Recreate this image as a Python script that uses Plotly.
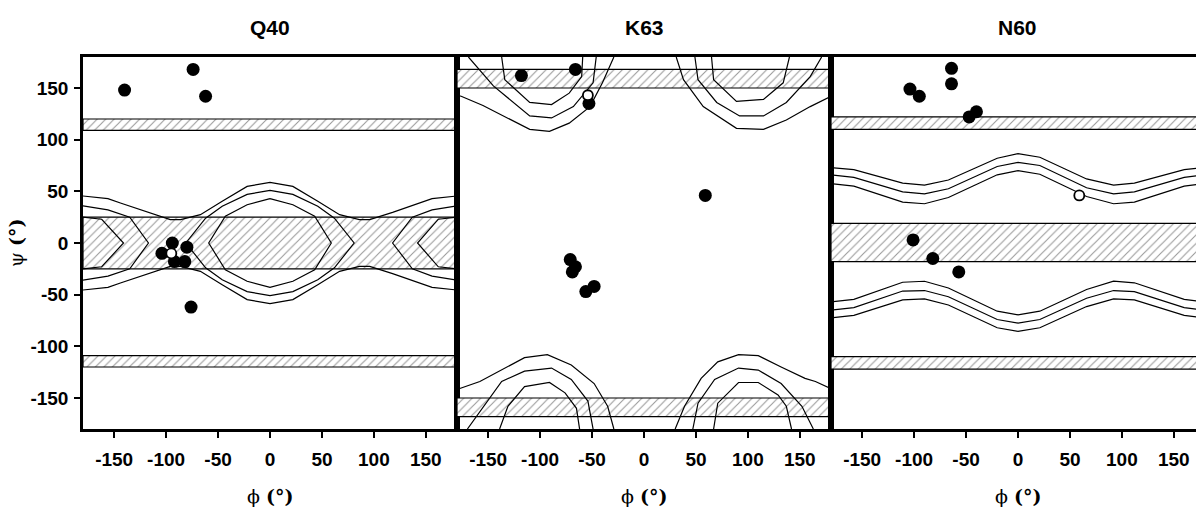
import plotly.graph_objects as go

# ---------------- data ----------------
panels = ["Q40", "K63", "N60"]
tick_vals = [-150, -100, -50, 0, 50, 100, 150]
tick_text = ["-150", "-100", "-50", "0", "50", "100", "150"]

# hatched psi bands (psi_low, psi_high) per panel
bands_q40 = [(109, 120), (-25, 25), (-120, -109)]
bands_k63 = [(150, 168), (-168, -150)]
bands_n60 = [(110, 122), (-18, 19), (-122, -110)]

# Q40 contour polylines (phi list, psi list)
q40_inner_phi = [0, 22, 43, 59, 43, 22, 0, -22, -43, -59, -43, -22, 0]
q40_inner_psi = [43, 37, 26, 0, -26, -37, -43, -37, -26, 0, 26, 37, 43]
q40_mid_phi = [0, 22, 46, 62, 81, 62, 46, 22, 0, -22, -46, -62, -81, -62, -46, -22, 0]
q40_mid_psi = [51, 47, 35.5, 24, 0, -24, -35.5, -47, -51, -47, -35.5, -24, 0, 24, 35.5, 47, 51]
q40_wave_phi = [-180, -156, -144, -118, -96, -86, -67, -46, -22, 0, 22, 46, 67, 86, 96, 118, 144, 156, 180]
q40_wave_up = [45.5, 43, 38.7, 29.7, 22.6, 22.6, 27.4, 40.3, 54.8, 58.7, 54.8, 40.3, 27.4, 22.6, 22.6, 29.7, 38.7, 43, 45.5]
q40_wave_dn = [-45.5, -43, -38.7, -29.7, -22.6, -22.6, -27.4, -40.3, -54.8, -58.7, -54.8, -40.3, -27.4, -22.6, -22.6, -29.7, -38.7, -43, -45.5]
q40_edge_mid_r_phi = [180, 156, 137, 118, 137, 156, 180]
q40_edge_mid_l_phi = [-180, -156, -135, -117, -135, -156, -180]
q40_edge_mid_psi = [36, 32, 25, 0, -25, -32, -36]
q40_edge_in_r_phi = [180, 162, 142, 162, 180]
q40_edge_in_l_phi = [-180, -162, -141, -162, -180]
q40_edge_in_psi = [25, 23, 0, -23, -25]

# K63 contour polylines
k63_top_left_out_phi = [-180, -176, -155, -110, -91, -72, -52, -40, -29]
k63_top_left_out_psi = [143, 142, 133, 110, 108, 116, 132, 155, 180]
k63_top_left_mid_phi = [-169, -145, -110, -89, -68, -49, -46]
k63_top_left_mid_psi = [180, 152, 123, 121, 132, 155, 180]
k63_top_left_in_phi = [-137, -134, -110, -89, -72, -60, -59]
k63_top_left_in_psi = [180, 158, 136, 134, 145, 161, 180]
k63_top_right_out_phi = [31, 38, 57, 89, 115, 137, 160, 180]
k63_top_right_out_psi = [180, 158, 132, 111, 110, 119, 132, 142]
k63_top_right_mid_phi = [49, 52, 70, 92, 115, 137, 160, 171]
k63_top_right_mid_psi = [180, 158, 136, 123, 123, 136, 161, 180]
k63_top_right_in_phi = [65, 67, 89, 115, 134, 140]
k63_top_right_in_psi = [180, 158, 137, 139, 155, 180]
k63_bot_left_out_phi = [-180, -178, -158, -115, -93, -70, -48, -35, -29]
k63_bot_left_out_psi = [-142, -141, -134, -111, -108, -118, -136, -158, -180]
k63_bot_left_mid_phi = [-170, -137, -115, -89, -70, -54, -49]
k63_bot_left_mid_psi = [-180, -134, -124, -121, -132, -153, -180]
k63_bot_left_in_phi = [-139, -131, -115, -91, -76, -65, -62]
k63_bot_left_in_psi = [-180, -158, -139, -135, -145, -160, -180]
k63_bot_right_out_phi = [30, 39, 55, 71, 91, 110, 132, 155, 165, 180]
k63_bot_right_out_psi = [-180, -158, -131, -115, -108, -109, -120, -131, -134, -141]
k63_bot_right_mid_phi = [47, 52, 68, 91, 110, 132, 152, 163]
k63_bot_right_mid_psi = [-180, -155, -132, -121, -123, -136, -158, -180]
k63_bot_right_in_phi = [67, 71, 91, 110, 129, 137, 142]
k63_bot_right_in_psi = [-180, -155, -135, -135, -147, -158, -180]

# N60 wavy contour polylines
n60_phi = [-180, -158, -111, -90, -67, -20, 0, 21, 66, 92, 112, 160, 180]
n60_up_out = [73, 71, 58, 56, 61, 82, 86.5, 83, 62, 56, 58, 71, 73]
n60_up_mid = [66, 63.5, 49.5, 47.5, 52.5, 74, 78, 75, 53.5, 47.5, 49.5, 63.5, 66]
n60_up_in = [57.5, 55, 39.5, 38, 44, 66, 70, 66.5, 45, 38, 39.5, 55, 57.5]
n60_dn_in = [-57, -54.5, -38, -37, -43.5, -66, -69.5, -66, -45, -37, -38.5, -54.5, -57]
n60_dn_mid = [-65, -62.5, -46.5, -46, -52, -74, -77.5, -74, -53.5, -46, -47, -62.5, -65]
n60_dn_out = [-72.5, -70, -55, -54, -60, -82, -85.5, -82, -61.5, -54, -55, -70, -72.5]

# residue (phi, psi) points: filled
q40_phi = [-140, -74, -62, -94, -80, -104, -92, -82, -76]
q40_psi = [148, 168, 142, 0, -4, -10, -18, -18, -62]
k63_phi = [-118, -66, -53, 59, -71, -66, -69, -56, -48]
k63_psi = [162, 168, 135, 46, -16, -23, -28, -47, -42]
n60_phi_pts = [-64, -64, -104, -95, -47, -40, -101, -82, -57]
n60_psi_pts = [169, 154, 149, 142, 122, 127, 3, -15, -28]
# open symbols
q40_open_phi, q40_open_psi = [-95], [-10]
k63_open_phi, k63_open_psi = [-54], [143]
n60_open_phi, n60_open_psi = [59], [46]

# ---------------- figure ----------------
W, H = 1196, 509
ML, MT, MB = 83, 57, 80
plot_w = W - ML
splits = [(457 - ML) / plot_w, (831 - ML) / plot_w]
domains = [[0, splits[0]], [splits[0], splits[1]], [splits[1], 1.0]]
x3_max = -180 + (W - 831) * 360.0 / 374.0

fig = go.Figure()
axes = [("x", "y"), ("x2", "y2"), ("x3", "y3")]

pattern = dict(shape="/", size=6, solidity=0.18, fgcolor="#333333", bgcolor="white")


def add_band(lo, hi, ax):
    xa, ya = ax
    fig.add_trace(go.Scatter(x=[-180, 180, 180, -180, -180], y=[lo, lo, hi, hi, lo],
                             mode="lines", fill="toself", fillcolor="white", fillpattern=pattern,
                             line=dict(color="black", width=1.2), hoverinfo="skip",
                             showlegend=False, xaxis=xa, yaxis=ya))


def add_line(xs, ys, ax):
    xa, ya = ax
    fig.add_trace(go.Scatter(x=xs, y=ys, mode="lines", line=dict(color="black", width=1.2),
                             showlegend=False, hoverinfo="skip", xaxis=xa, yaxis=ya))


def add_points(xs, ys, ax, filled=True):
    xa, ya = ax
    if filled:
        mk = dict(size=13, color="black", line=dict(width=0))
    else:
        mk = dict(size=10, color="white", line=dict(color="black", width=1.8))
    fig.add_trace(go.Scatter(x=xs, y=ys, mode="markers", marker=mk, showlegend=False,
                             xaxis=xa, yaxis=ya))


for lo, hi in bands_q40:
    add_band(lo, hi, axes[0])
for lo, hi in bands_k63:
    add_band(lo, hi, axes[1])
for lo, hi in bands_n60:
    add_band(lo, hi, axes[2])

# Q40 contours
add_line(q40_inner_phi, q40_inner_psi, axes[0])
add_line(q40_mid_phi, q40_mid_psi, axes[0])
add_line(q40_wave_phi, q40_wave_up, axes[0])
add_line(q40_wave_phi, q40_wave_dn, axes[0])
add_line(q40_edge_mid_r_phi, q40_edge_mid_psi, axes[0])
add_line(q40_edge_mid_l_phi, q40_edge_mid_psi, axes[0])
add_line(q40_edge_in_r_phi, q40_edge_in_psi, axes[0])
add_line(q40_edge_in_l_phi, q40_edge_in_psi, axes[0])

# K63 contours
for xs, ys in [(k63_top_left_out_phi, k63_top_left_out_psi), (k63_top_left_mid_phi, k63_top_left_mid_psi),
               (k63_top_left_in_phi, k63_top_left_in_psi), (k63_top_right_out_phi, k63_top_right_out_psi),
               (k63_top_right_mid_phi, k63_top_right_mid_psi), (k63_top_right_in_phi, k63_top_right_in_psi),
               (k63_bot_left_out_phi, k63_bot_left_out_psi), (k63_bot_left_mid_phi, k63_bot_left_mid_psi),
               (k63_bot_left_in_phi, k63_bot_left_in_psi), (k63_bot_right_out_phi, k63_bot_right_out_psi),
               (k63_bot_right_mid_phi, k63_bot_right_mid_psi), (k63_bot_right_in_phi, k63_bot_right_in_psi)]:
    add_line(xs, ys, axes[1])

# N60 contours
for ys in [n60_up_out, n60_up_mid, n60_up_in, n60_dn_in, n60_dn_mid, n60_dn_out]:
    add_line(n60_phi, ys, axes[2])

add_points(q40_phi, q40_psi, axes[0])
add_points(q40_open_phi, q40_open_psi, axes[0], filled=False)
add_points(k63_phi, k63_psi, axes[1])
add_points(k63_open_phi, k63_open_psi, axes[1], filled=False)
add_points(n60_phi_pts, n60_psi_pts, axes[2])
add_points(n60_open_phi, n60_open_psi, axes[2], filled=False)

tickfont = dict(family="Liberation Sans, Arial, sans-serif", size=19, color="black", weight="bold")
layout = dict(
    width=W, height=H,
    margin=dict(l=ML, r=0, t=MT, b=MB, pad=0, autoexpand=False),
    paper_bgcolor="white", plot_bgcolor="white",
    showlegend=False,
)
for i, key in enumerate(["xaxis", "xaxis2", "xaxis3"]):
    layout[key] = dict(
        domain=domains[i], anchor=["y", "y2", "y3"][i],
        range=[-180, 180] if i < 2 else [-180, x3_max],
        tickmode="array", tickvals=tick_vals, ticktext=tick_text,
        ticks="outside", ticklen=6, tickwidth=2, tickcolor="black",
        ticklabelstandoff=5,
        showline=True, mirror=True, linecolor="black", linewidth=2.5,
        showgrid=False, zeroline=False, tickfont=tickfont, fixedrange=True,
    )
for i, key in enumerate(["yaxis", "yaxis2", "yaxis3"]):
    d = dict(
        domain=[0, 1], anchor=["x", "x2", "x3"][i], range=[-180, 180],
        showline=True, mirror=(i < 2), linecolor="black", linewidth=2.5,
        showgrid=False, zeroline=False, fixedrange=True,
    )
    if i == 0:
        d.update(tickmode="array", tickvals=tick_vals, ticktext=tick_text,
                 ticks="outside", ticklen=6, tickwidth=2, tickcolor="black", tickfont=tickfont,
                 ticklabelstandoff=2)
    else:
        d.update(showticklabels=False, ticks="")
    layout[key] = d
fig.update_layout(**layout)

plot_h = H - MT - MB
title_y = 1 + (MT - 27) / plot_h
xlab_y = -(496 - (H - MB)) / plot_h
ann = []
for i, name in enumerate(panels):
    xr = ["x", "x2", "x3"][i]
    ann.append(dict(text="<b>%s</b>" % name, x=0, xref=xr, y=title_y, yref="paper",
                    xanchor="center", yanchor="middle", showarrow=False,
                    font=dict(family="Liberation Sans, Arial, sans-serif", size=21, color="black")))
    ann.append(dict(text="ϕ <b>(°)</b>", x=0, xref=xr, y=xlab_y, yref="paper",
                    xanchor="center", yanchor="middle", showarrow=False,
                    font=dict(family="DejaVu Serif, serif", size=19, color="black")))
ann.append(dict(text="ψ <b>(°)</b>", x=-(ML - 16) / plot_w, xref="paper", y=0.5, yref="paper",
                xanchor="center", yanchor="middle", textangle=-90, showarrow=False,
                font=dict(family="DejaVu Serif, serif", size=19, color="black")))
fig.update_layout(annotations=ann)

fig.write_html("out.html", config={"displayModeBar": False},
               post_script="document.body.style.margin='0';document.body.style.overflow='hidden';")
